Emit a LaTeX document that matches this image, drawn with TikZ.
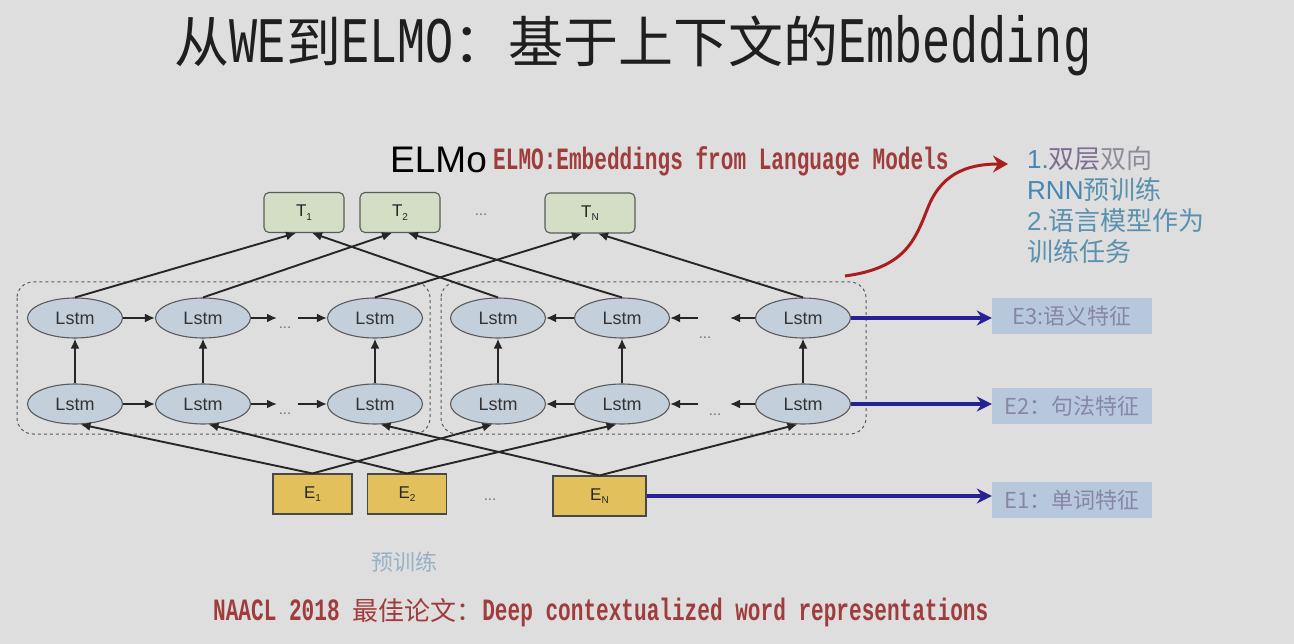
\documentclass[tikz,border=0pt]{standalone}
\usepackage{fontspec}
\usetikzlibrary{arrows.meta,shapes.geometric}
\setmainfont{Liberation Sans}
\newfontfamily\cjk{Noto Sans CJK SC}
\newfontfamily\monoT[FakeStretch=0.72]{Liberation Mono}
\newfontfamily\monoS[FakeStretch=0.68]{Liberation Mono}
\definecolor{bg}{RGB}{222,222,222}
\definecolor{tgreen}{RGB}{211,222,196}
\definecolor{egold}{RGB}{226,192,92}
\definecolor{lstmfill}{RGB}{196,207,220}
\definecolor{edge}{RGB}{90,90,90}
\definecolor{navy}{RGB}{38,34,150}
\definecolor{redarrow}{RGB}{170,30,30}
\definecolor{brownred}{RGB}{160,60,60}
\definecolor{featfill}{RGB}{184,200,220}
\definecolor{feattext}{RGB}{135,135,165}
\definecolor{tealA}{RGB}{70,135,180}
\definecolor{tealB}{RGB}{90,145,175}
\definecolor{grayA}{RGB}{125,110,145}
\definecolor{grayB}{RGB}{140,140,155}
\definecolor{pretrain}{RGB}{150,178,198}
\newcommand\TC[1]{{\cjk\fontsize{55}{60}\selectfont #1}}
\newcommand\TL[1]{{\monoT\fontsize{65}{60}\selectfont #1}}
\newcommand\subidx[1]{\raisebox{-0.4ex}{\fontsize{10}{10}\selectfont #1}}
\begin{document}
\begin{tikzpicture}[x=1pt,y=-1pt,
  tbox/.style={draw=edge, fill=tgreen, rounded corners=5pt, line width=1.1pt, minimum height=40pt, inner sep=0pt, font=\fontsize{17}{17}\selectfont, text=black!85},
  ebox/.style={draw=edge!80!black, fill=egold, line width=1.1pt, minimum height=40pt, inner sep=0pt, font=\fontsize{17}{17}\selectfont, text=black!85},
  lstm/.style={ellipse, draw=edge, fill=lstmfill, line width=1.1pt, minimum width=95pt, minimum height=40pt, inner sep=0pt, font=\fontsize{18}{18}\selectfont, text=black!80},
  dots/.style={font=\fontsize{15}{15}\selectfont, text=black!55, inner sep=0pt},
  arr/.style={-{Latex[length=10pt,width=9pt]}, line width=1.9pt, draw=black!85},
  bluearr/.style={-{Stealth[length=15pt,width=15pt,inset=5pt]}, line width=3.2pt, draw=navy},
  feat/.style={fill=featfill, minimum width=160pt, minimum height=36pt, inner sep=0pt, text=feattext, font=\cjk\fontsize{22}{22}\selectfont},
  grp/.style={draw=edge, dashed, rounded corners=16pt, line width=1pt},
  txt/.style={inner sep=0pt}
]
\useasboundingbox[fill=bg] (0,0) rectangle (1294,644);

% title
\node[txt, anchor=base, text=black!88] (title) at (633,63)
  {\TC{从}\TL{WE}\TC{到}\TL{ELMO}\TC{：基于上下文的}\TL{Embedding}};

% ELMo heading
\node[txt, anchor=base west, font=\fontsize{37}{37}\selectfont] (elmo) at (390,173) {ELMo};
\node[txt, anchor=base west, text=brownred, font=\monoS\bfseries\fontsize{31}{31}\selectfont] (elmosub) at (493,170) {ELMO:Embeddings from Language Models};

% groups
\draw[grp] (17,282) rectangle (430,434);
\draw[grp] (441,282) rectangle (866,434);

% T boxes
\node[tbox, minimum width=80pt] (T1) at (304,212.5) {T\subidx{1}};
\node[tbox, minimum width=80pt] (T2) at (400,212.5) {T\subidx{2}};
\node[dots] (tdots) at (481,215) {...};
\node[tbox, minimum width=90pt] (TN) at (590,213) {T\subidx{N}};

% E boxes
\node[ebox, minimum width=79pt] (E1) at (312.5,494) {E\subidx{1}};
\node[ebox, minimum width=79pt] (E2) at (407,494) {E\subidx{2}};
\node[dots] (edots) at (490,500) {...};
\node[ebox, minimum width=93pt] (EN) at (599.5,496) {E\subidx{N}};

% LSTMs
\node[lstm] (lt1) at (75,318) {Lstm};
\node[lstm] (lt2) at (203,318) {Lstm};
\node[lstm] (lt3) at (375,318) {Lstm};
\node[lstm] (lb1) at (75,404) {Lstm};
\node[lstm] (lb2) at (203,404) {Lstm};
\node[lstm] (lb3) at (375,404) {Lstm};
\node[lstm] (rt1) at (498,318) {Lstm};
\node[lstm] (rt2) at (622,318) {Lstm};
\node[lstm] (rt3) at (803,318) {Lstm};
\node[lstm] (rb1) at (498,404) {Lstm};
\node[lstm] (rb2) at (622,404) {Lstm};
\node[lstm] (rb3) at (803,404) {Lstm};

% dots in chains
\node[dots] (ldt) at (285,328) {...};
\node[dots] (ldb) at (285,414) {...};
\node[dots] (rdt) at (705,338) {...};
\node[dots] (rdb) at (715,415) {...};
\coordinate (la1) at (277,318);
\coordinate (la2) at (298,318);
\coordinate (la3) at (277,404);
\coordinate (la4) at (298,404);
\coordinate (ra1) at (698,318);
\coordinate (ra2) at (730,318);
\coordinate (ra3) at (698,404);
\coordinate (ra4) at (730,404);

% forward chain
\draw[arr] (lt1.east) -- (lt2.west);
\draw[arr] (lt2.east) -- (la1);
\draw[arr] (la2) -- (lt3.west);
\draw[arr] (lb1.east) -- (lb2.west);
\draw[arr] (lb2.east) -- (la3);
\draw[arr] (la4) -- (lb3.west);
% backward chain
\draw[arr] (rt2.west) -- (rt1.east);
\draw[arr] (ra1) -- (rt2.east);
\draw[arr] (rt3.west) -- (ra2);
\draw[arr] (rb2.west) -- (rb1.east);
\draw[arr] (ra3) -- (rb2.east);
\draw[arr] (rb3.west) -- (ra4);

% vertical
\foreach \c in {1,2,3}{
  \draw[arr] (lb\c.north) -- (lt\c.south);
  \draw[arr] (rb\c.north) -- (rt\c.south);
}

% to outputs
\draw[arr] (lt1.north) -- ([xshift=-8pt]T1.south);
\draw[arr] (lt2.north) -- ([xshift=-8pt]T2.south);
\draw[arr] (lt3.north) -- ([xshift=-8pt]TN.south);
\draw[arr] (rt1.north) -- ([xshift=8pt]T1.south);
\draw[arr] (rt2.north) -- ([xshift=8pt]T2.south);
\draw[arr] (rt3.north) -- ([xshift=8pt]TN.south);

% from embeddings
\draw[arr] (E1.north) -- (lb1.-75);
\draw[arr] (E1.north) -- (rb1.-105);
\draw[arr] (E2.north) -- (lb2.-75);
\draw[arr] (E2.north) -- (rb2.-105);
\draw[arr] (EN.north) -- (lb3.-75);
\draw[arr] (EN.north) -- (rb3.-105);

% feature boxes
\node[feat] (f3) at (1072,316.5) {E3:语义特征};
\node[feat] (f2) at (1072,406) {E2：句法特征};
\node[feat] (f1) at (1072,500) {E1：单词特征};
\draw[bluearr] (rt3.east) -- (rt3.east -| f3.west);
\draw[bluearr] (rb3.east) -- (rb3.east -| f2.west);
\draw[bluearr] (EN.east) -- (EN.east -| f1.west);

% red curved arrow
\coordinate (rs) at (845,276);
\coordinate (re) at (1008,164);
\draw[redarrow, line width=3pt, -{Stealth[length=15pt,width=17pt,inset=5pt]}]
  (rs) .. controls (905,268) and (915,240) .. (927,210)
       .. controls (940,175) and (965,164) .. (re);

% right notes
\node[txt, anchor=base west, font=\fontsize{26}{26}\selectfont] (r1) at (1027,169)
  {\textcolor{tealA}{1.}{\cjk\textcolor{grayA}{双层}\textcolor{grayB}{双向}}};
\node[txt, anchor=base west, font=\fontsize{26}{26}\selectfont] (r2) at (1027,200)
  {\textcolor{tealA}{RNN}{\cjk\textcolor{tealB}{预训练}}};
\node[txt, anchor=base west, font=\fontsize{26}{26}\selectfont, text=tealB] (r3) at (1027,231)
  {2.{\cjk 语言模型作为}};
\node[txt, anchor=base west, font=\cjk\fontsize{26}{26}\selectfont, text=tealB] (r4) at (1027,262)
  {训练任务};

% pretraining label
\node[txt, text=pretrain, font=\cjk\fontsize{22}{22}\selectfont] (pre) at (404,562) {预训练};

% bottom reference
\node[txt, anchor=base west, text=brownred] (ref) at (213,620)
  {{\monoS\bfseries\fontsize{31}{31}\selectfont NAACL 2018 }{\cjk\fontsize{26}{26}\selectfont 最佳论文：}{\monoS\bfseries\fontsize{31}{31}\selectfont Deep contextualized word representations}};
\end{tikzpicture}
\end{document}
